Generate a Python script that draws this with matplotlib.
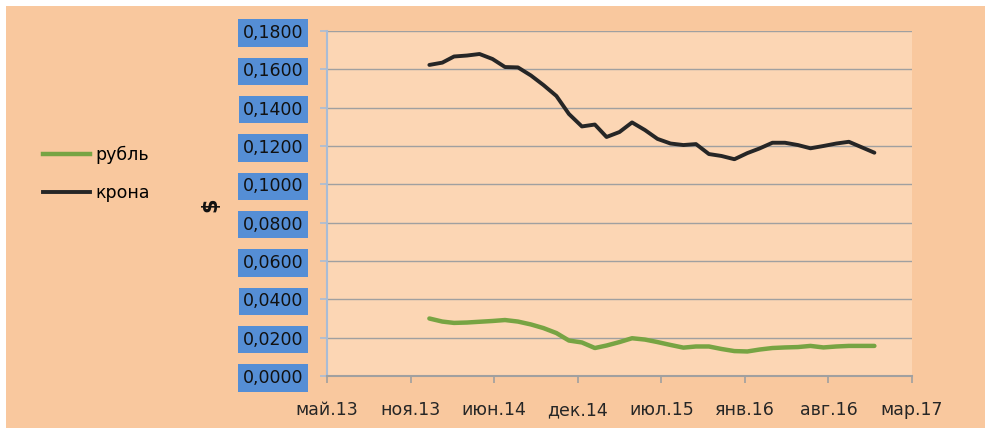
import pandas as pd
import matplotlib.pyplot as plt
import matplotlib.patches as mpatches
from matplotlib.lines import Line2D

# Monthly rates, Jan 2014 - Dec 2016 (USD per unit)
months = pd.date_range('2014-01-01', periods=36, freq='MS')
rouble = [0.0300, 0.0284, 0.0277, 0.0279, 0.0283, 0.0287, 0.0292, 0.0284, 0.0269, 0.0250, 0.0224, 0.0185,
          0.0175, 0.0146, 0.0159, 0.0177, 0.0197, 0.0190, 0.0177, 0.0162, 0.0148, 0.0154, 0.0154, 0.0141,
          0.0130, 0.0128, 0.0138, 0.0146, 0.0149, 0.0151, 0.0157, 0.0149, 0.0154, 0.0157, 0.0157, 0.0157]
krona = [0.1623, 0.1635, 0.1667, 0.1672, 0.1680, 0.1654, 0.1612, 0.1610, 0.1568, 0.1518, 0.1461, 0.1367,
         0.1302, 0.1312, 0.1247, 0.1273, 0.1323, 0.1283, 0.1237, 0.1213, 0.1205, 0.1210, 0.1158, 0.1148,
         0.1131, 0.1163, 0.1187, 0.1217, 0.1217, 0.1205, 0.1188, 0.1200, 0.1213, 0.1222, 0.1193, 0.1165]

x_start = pd.Timestamp('2013-05-01')
x_ticks = [x_start + pd.Timedelta(days=200 * i) for i in range(8)]
x_labels = ['май.13', 'ноя.13', 'июн.14', 'дек.14', 'июл.15', 'янв.16', 'авг.16', 'мар.17']
y_ticks = [0.02 * i for i in range(10)]
y_labels = ['0,%04d' % round(v * 10000) for v in y_ticks]

outer_bg = '#F9C89E'
inner_bg = '#FCD6B4'
green = '#77A443'
black = '#262626'

fig = plt.figure(figsize=(9.85, 4.3), dpi=100)
fig.patch.set_facecolor('white')
fig.patches.append(mpatches.Rectangle((6 / 985, 2 / 430), 1, 422 / 430,
                                      transform=fig.transFigure, facecolor=outer_bg,
                                      edgecolor='none', zorder=-10))

ax = fig.add_axes([327 / 985, 1 - 376 / 430, 585 / 985, 345 / 430])
ax.set_facecolor(inner_bg)

ax.plot(months, rouble, color=green, linewidth=3.2, solid_capstyle='round', zorder=3)
ax.plot(months, krona, color=black, linewidth=2.8, solid_capstyle='round', zorder=3)

ax.set_xlim(x_ticks[0], x_ticks[-1])
ax.set_ylim(0, 0.18)
ax.set_xticks(x_ticks)
ax.set_xticklabels(x_labels, fontsize=12.5, color='#262626')
ax.set_yticks(y_ticks)
ax.set_yticklabels(y_labels, fontsize=12.5, color='#111111')
for lbl in ax.get_yticklabels():
    lbl.set_bbox(dict(facecolor='#558ED5', edgecolor='none', pad=3.2))

ax.grid(axis='y', color='#A0A0A0', linewidth=1.0)
ax.set_axisbelow(True)
for side in ['top', 'right']:
    ax.spines[side].set_visible(False)
ax.spines['left'].set_color('#A9BCD6')
ax.spines['left'].set_linewidth(1.5)
ax.spines['bottom'].set_color('#A0A0A0')
ax.spines['bottom'].set_linewidth(1.5)
ax.tick_params(axis='y', direction='out', length=5, width=1.2, color='#A9BCD6', pad=12)
ax.tick_params(axis='x', direction='out', length=5, width=1.2, color='#A0A0A0', pad=13)

fig.text(210 / 985, 1 - 205 / 430, '$', rotation=90, fontsize=15, fontweight='bold',
         ha='center', va='center', color='#111111')

handles = [Line2D([], [], color=green, linewidth=3.2),
           Line2D([], [], color=black, linewidth=2.8)]
fig.legend(handles, ['рубль', 'крона'], loc='center left',
           bbox_to_anchor=(43 / 985, 1 - 174 / 430), frameon=False,
           fontsize=12.5, handlelength=2.7, handletextpad=0.3,
           labelspacing=1.15, borderpad=0, borderaxespad=0)

plt.savefig('out.png', dpi=100, facecolor=fig.get_facecolor())
